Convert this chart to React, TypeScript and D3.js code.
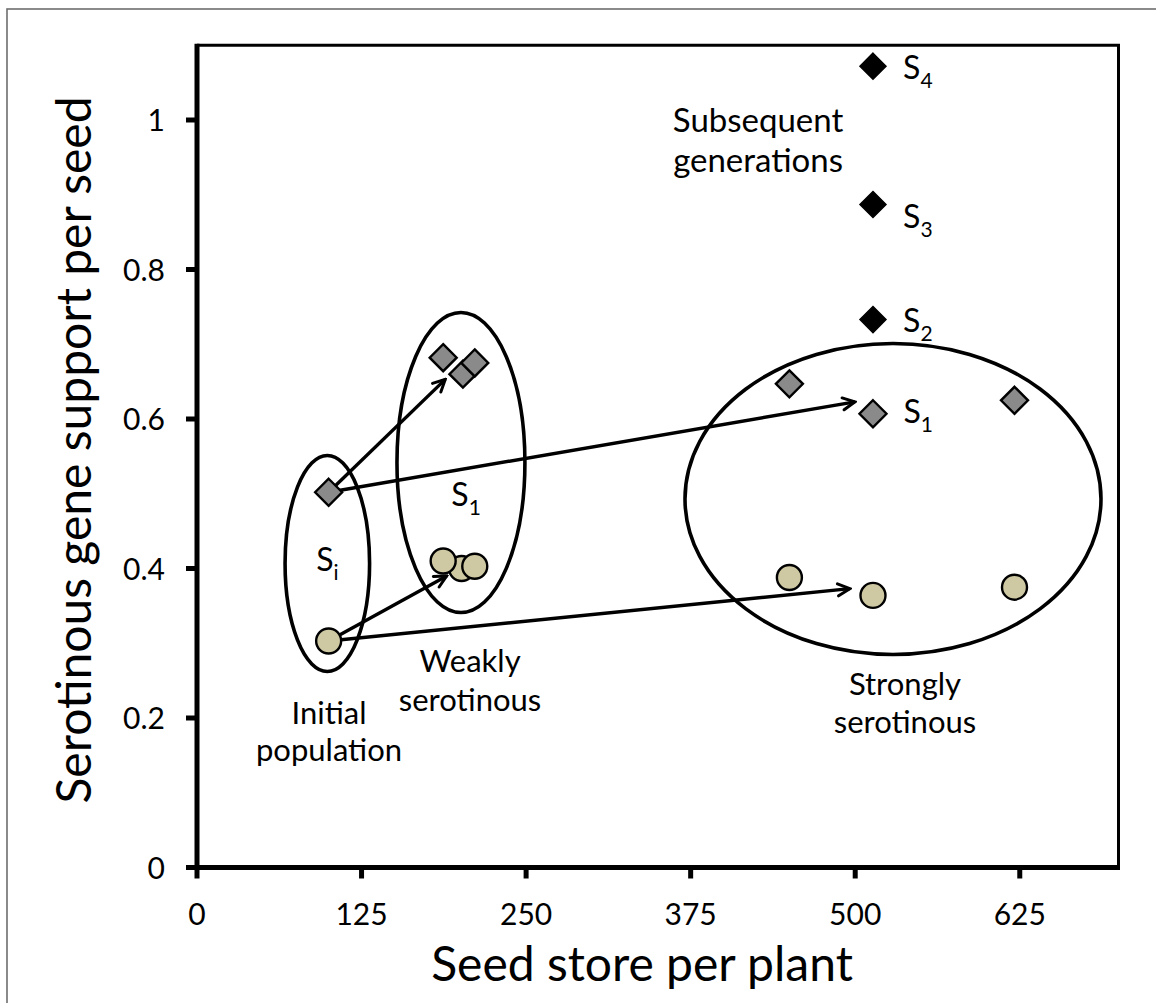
import React, { useEffect } from "react";
import * as d3 from "d3";

// ---- data ----
const xTicks = [0, 125, 250, 375, 500, 625];
const yTicks = [0, 0.2, 0.4, 0.6, 0.8, 1];

// gray diamonds: initial, weakly serotinous (3), strongly serotinous (3)
const grayDiamondX = [100, 202, 187, 211, 450, 513.5, 621];
const grayDiamondY = [0.502, 0.66, 0.682, 0.675, 0.647, 0.607, 0.625];
// beige circles
const beigeCircleX = [100, 201, 187, 211, 450, 513.5, 621];
const beigeCircleY = [0.303, 0.4, 0.41, 0.403, 0.388, 0.364, 0.375];
// black diamonds: subsequent generations S2..S4
const blackDiamondX = [513.5, 513.5, 513.5];
const blackDiamondY = [0.733, 0.887, 1.072];

// arrows (data units)
const arrowFromX = [100, 100, 100, 100];
const arrowFromY = [0.502, 0.502, 0.303, 0.303];
const arrowToX = [188.6, 499.8, 189.7, 496];
const arrowToY = [0.653, 0.623, 0.39, 0.373];

// ellipses (data units: centre, radii)
const ellipseCX = [99, 200.5, 528.7];
const ellipseCY = [0.4067, 0.5418, 0.493];
const ellipseRX = [32.1, 48.6, 158];
const ellipseRY = [0.1445, 0.2007, 0.208];

// S labels (left x, baseline y in data units)
const sLabelText = ["S", "S", "S", "S", "S", "S"];
const sLabelSub = ["i", "1", "1", "2", "3", "4"];
const sLabelX = [90.5, 193.2, 536.6, 536.3, 536.3, 536.3];
const sLabelY = [0.396, 0.483, 0.5953, 0.717, 0.8555, 1.055];

// group captions (centre x, baseline y in data units)
const captionText = ["Initial", "population", "Weakly", "serotinous", "Strongly", "serotinous", "Subsequent", "generations"];
const captionX = [100.3, 100.3, 207.4, 207.4, 537.8, 537.8, 426.2, 426.2];
const captionY = [0.1926, 0.1431, 0.2622, 0.21, 0.2314, 0.1793, 0.9846, 0.9311];
const captionSize = [31, 31, 31, 31, 31, 31, 33, 33];

const xTitle = "Seed store per plant";
const yTitle = "Serotinous gene support per seed";

const W = 1156;
const H = 1003;
const FONT = "Lato, 'Open Sans', sans-serif";

export default function App() {
  useEffect(() => {
    document.body.style.margin = "0";
  }, []);

  const x = d3.scaleLinear().domain([0, 700]).range([197, 1118.5]);
  const y = d3.scaleLinear().domain([0, 1.1]).range([867.5, 45.25]);

  const diamond = (cx: number, cy: number, r: number) =>
    `M${cx},${cy - r}L${cx + r},${cy}L${cx},${cy + r}L${cx - r},${cy}Z`;

  const ell = (i: number) => {
    const cx = x(ellipseCX[i]);
    const cy = y(ellipseCY[i]);
    const rx = x(ellipseCX[i] + ellipseRX[i]) - cx;
    const ry = cy - y(ellipseCY[i] + ellipseRY[i]);
    return <ellipse key={"e" + i} cx={cx} cy={cy} rx={rx} ry={ry} fill="none" stroke="#000" strokeWidth={3.6} />;
  };

  return (
    <svg width={W} height={H} style={{ display: "block", position: "absolute", left: 0, top: 0 }} fontFamily={FONT}>
      <defs>
        <marker id="arr" viewBox="0 0 16 16" refX={14} refY={8} markerWidth={16} markerHeight={16} orient="auto" markerUnits="userSpaceOnUse">
          <path d="M2,2 L14,8 L2,14" fill="none" stroke="#000" strokeWidth={3} strokeLinejoin="miter" strokeLinecap="round" />
        </marker>
      </defs>
      <rect x={0} y={0} width={W} height={H} fill="#fff" />
      {/* outer border */}
      <rect x={7} y={9} width={W + 20} height={H + 20} fill="none" stroke="#6e6e6e" strokeWidth={1.6} />

      {/* frame top/right */}
      <path d={`M${x(0)},${y(1.1)}H${x(700)}V${y(0)}`} fill="none" stroke="#000" strokeWidth={3} />

      {/* ellipses */}
      {ellipseCX.map((_, i) => ell(i))}

      {/* arrows */}
      {arrowFromX.map((_, i) => (
        <line key={"a" + i} x1={x(arrowFromX[i])} y1={y(arrowFromY[i])} x2={x(arrowToX[i])} y2={y(arrowToY[i])}
          stroke="#000" strokeWidth={3.4} markerEnd="url(#arr)" />
      ))}

      {/* markers */}
      {beigeCircleX.map((v, i) => (
        <circle key={"c" + i} cx={x(v)} cy={y(beigeCircleY[i])} r={12.5} fill="#cfc9a3" stroke="#000" strokeWidth={2.4} />
      ))}
      {grayDiamondX.map((v, i) => (
        <path key={"g" + i} d={diamond(x(v), y(grayDiamondY[i]), 13.5)} fill="#8a8a8a" stroke="#000" strokeWidth={2.4} />
      ))}
      {blackDiamondX.map((v, i) => (
        <path key={"b" + i} d={diamond(x(v), y(blackDiamondY[i]), 13)} fill="#000" stroke="#000" strokeWidth={1.5} />
      ))}

      {/* axes */}
      <line x1={x(0)} y1={y(1.1) - 1.5} x2={x(0)} y2={y(0) + 2.5} stroke="#000" strokeWidth={5} />
      <line x1={x(0) - 2.5} y1={y(0)} x2={x(700) + 1.5} y2={y(0)} stroke="#000" strokeWidth={5} />
      {yTicks.map((t) => (
        <g key={"yt" + t}>
          <line x1={x(0) - 11} x2={x(0)} y1={y(t)} y2={y(t)} stroke="#000" strokeWidth={5} />
          <text x={165} y={y(t) + 11} textAnchor="end" fontSize={30} fill="#000">{d3.format("~g")(t)}</text>
        </g>
      ))}
      {xTicks.map((t) => (
        <g key={"xt" + t}>
          <line x1={x(t)} x2={x(t)} y1={y(0)} y2={y(0) + 11} stroke="#000" strokeWidth={5} />
          <text x={x(t)} y={925} textAnchor="middle" fontSize={30} fill="#000">{t}</text>
        </g>
      ))}

      {/* axis titles */}
      <text x={642} y={981} textAnchor="middle" fontSize={48} fill="#000">{xTitle}</text>
      <text transform={`translate(91,450) rotate(-90)`} textAnchor="middle" fontSize={48} fill="#000">{yTitle}</text>

      {/* captions */}
      {captionText.map((t, i) => (
        <text key={"cap" + i} x={x(captionX[i])} y={y(captionY[i])} textAnchor="middle" fontSize={captionSize[i]} fill="#000">{t}</text>
      ))}

      {/* S labels */}
      {sLabelText.map((t, i) => (
        <text key={"s" + i} x={x(sLabelX[i])} y={y(sLabelY[i])} fontSize={32} fill="#000">
          {t}
          <tspan dy={9} fontSize={21}>{sLabelSub[i]}</tspan>
        </text>
      ))}
    </svg>
  );
}
